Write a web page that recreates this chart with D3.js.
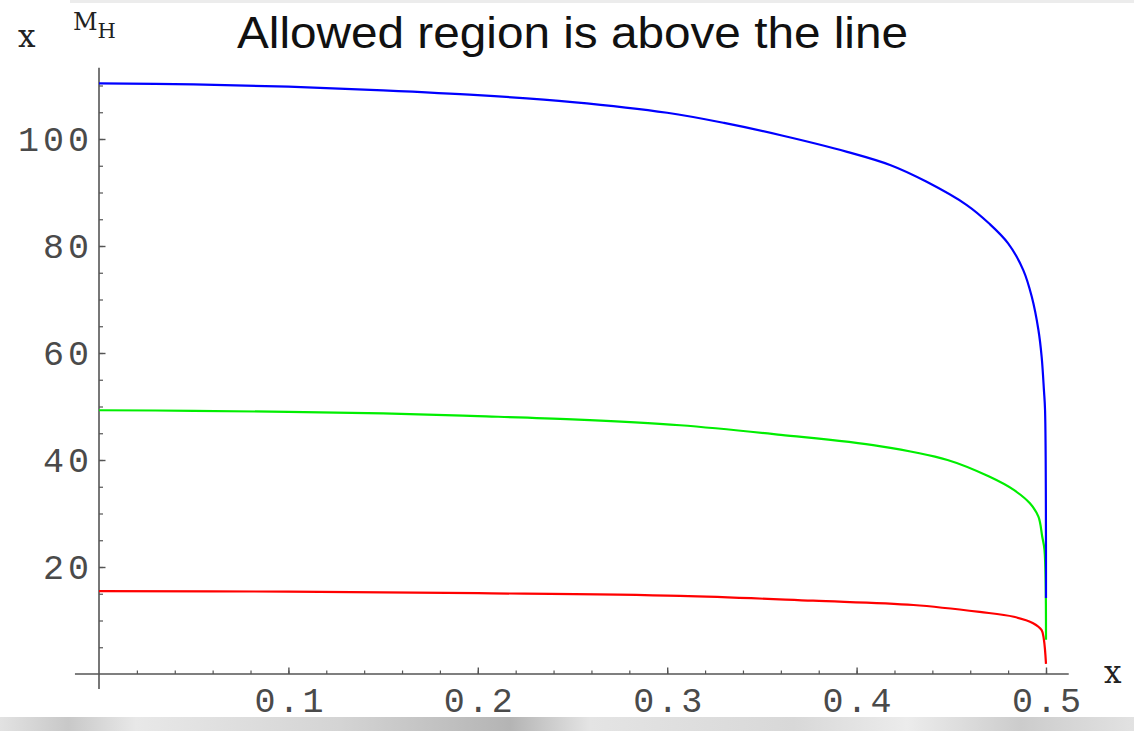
<!DOCTYPE html>
<html>
<head>
<meta charset="utf-8">
<script src="https://cdn.jsdelivr.net/npm/d3@7"></script>
<style>
  body { margin: 0; background: #fff; }
  svg { display: block; }
</style>
</head>
<body>
<svg width="1134" height="731"></svg>
<script>
// curves: x, M_H
var redX   = [0, 0.1, 0.2, 0.3068, 0.377, 0.43, 0.465, 0.483, 0.4932, 0.4977, 0.4989, 0.5];
var redM   = [15.5, 15.4, 15.1, 14.6, 13.7, 12.9, 11.6, 10.7, 9.5, 8.2, 6.4, 1.9];
var greenX = [0, 0.05, 0.1, 0.15, 0.2, 0.25, 0.3068, 0.36, 0.412, 0.448, 0.47, 0.483, 0.4915, 0.496, 0.498, 0.4992, 0.5];
var greenM = [49.3, 49.2, 49.0, 48.7, 48.2, 47.6, 46.5, 44.7, 42.6, 40.0, 36.9, 34.4, 31.9, 29.4, 25.7, 23.2, 6.4];
var blueX  = [0, 0.05, 0.1, 0.15, 0.2, 0.25, 0.3, 0.33, 0.36, 0.395, 0.418, 0.437, 0.458, 0.47, 0.48, 0.488, 0.4925, 0.496, 0.4977, 0.4989, 0.4995, 0.5];
var blueM  = [110.4, 110.2, 109.8, 109.1, 108.2, 106.9, 104.9, 103.0, 100.7, 97.6, 95.1, 92.0, 87.7, 84.2, 80.5, 75.5, 70.5, 64.3, 59.3, 53.1, 49.3, 14.2];

var xMajor = [0.1, 0.2, 0.3, 0.4, 0.5];
var yMajor = [20, 40, 60, 80, 100];
var xMinor = d3.range(0.02, 0.511, 0.02);
var yMinor = d3.range(5, 111, 5);
var xExtent = [-0.0127, 0.512];
var yExtent = [-2.8, 113.3];

var svg = d3.select("svg");

// faint strips of the slide background
svg.append("rect").attr("x", 70).attr("y", 0).attr("width", 1064).attr("height", 3).attr("fill", "#ececec");
var grad = svg.append("defs").append("linearGradient").attr("id", "metal");
[["0", "#e2e2e2"], ["0.06", "#c8c8c8"], ["0.12", "#e8e8e8"], ["0.3", "#d4d4d4"], ["0.45", "#b4b4b4"],
 ["0.52", "#e4e4e4"], ["0.7", "#d8d8d8"], ["0.8", "#ececec"], ["0.9", "#cccccc"], ["1", "#e2e2e2"]]
  .forEach(function(s) { grad.append("stop").attr("offset", s[0]).attr("stop-color", s[1]); });
svg.append("rect").attr("x", 0).attr("y", 717).attr("width", 1134).attr("height", 14).attr("fill", "url(#metal)");

var x = d3.scaleLinear().domain([0, 0.5]).range([99, 1046]);
var y = d3.scaleLinear().domain([0, 20]).range([674, 567]);

var axisColor = "#555";
var labelFont = "'Liberation Mono', 'DejaVu Sans Mono', monospace";

// axis lines
svg.append("line")
  .attr("x1", x(xExtent[0])).attr("x2", x(xExtent[1]))
  .attr("y1", y(0)).attr("y2", y(0))
  .attr("stroke", axisColor).attr("stroke-width", 1.6);
svg.append("line")
  .attr("x1", x(0)).attr("x2", x(0))
  .attr("y1", y(yExtent[0])).attr("y2", y(yExtent[1]))
  .attr("stroke", axisColor).attr("stroke-width", 1.6);

// minor ticks
svg.append("g")
  .attr("transform", "translate(0," + y(0) + ")")
  .call(d3.axisBottom(x).tickValues(xMinor).tickSize(-3.5).tickFormat(""))
  .call(function(g) { g.select(".domain").remove(); g.selectAll("line").attr("stroke", axisColor).attr("stroke-width", 1.2); });
svg.append("g")
  .attr("transform", "translate(" + x(0) + ",0)")
  .call(d3.axisLeft(y).tickValues(yMinor).tickSize(-4).tickFormat(""))
  .call(function(g) { g.select(".domain").remove(); g.selectAll("line").attr("stroke", axisColor).attr("stroke-width", 1.2); });

// major ticks with labels
svg.append("g")
  .attr("transform", "translate(0," + y(0) + ")")
  .call(d3.axisBottom(x).tickValues(xMajor).tickSize(-6.5).tickPadding(13).tickFormat(d3.format(".1f")))
  .call(function(g) {
    g.select(".domain").remove();
    g.selectAll("line").attr("stroke", axisColor).attr("stroke-width", 1.4);
    g.selectAll("text").attr("font-family", labelFont).attr("font-size", 35)
      .attr("letter-spacing", 3).attr("fill", "#4a4a4a").attr("dx", 1.5);
  });
svg.append("g")
  .attr("transform", "translate(" + x(0) + ",0)")
  .call(d3.axisLeft(y).tickValues(yMajor).tickSize(-6.5).tickPadding(6).tickFormat(d3.format("d")))
  .call(function(g) {
    g.select(".domain").remove();
    g.selectAll("line").attr("stroke", axisColor).attr("stroke-width", 1.4);
    g.selectAll("text").attr("font-family", labelFont).attr("font-size", 35)
      .attr("letter-spacing", 4).attr("fill", "#4a4a4a");
  });

// curves
var line = d3.line()
  .x(function(d) { return x(d[0]); })
  .y(function(d) { return y(d[1]); })
  .curve(d3.curveCatmullRom.alpha(0.5));

[[redX, redM, "#ff0000"], [greenX, greenM, "#00ee00"], [blueX, blueM, "#0000ff"]].forEach(function(s) {
  svg.append("path")
    .datum(d3.zip(s[0], s[1]))
    .attr("fill", "none")
    .attr("stroke", s[2])
    .attr("stroke-width", 2.2)
    .attr("stroke-linejoin", "round")
    .attr("d", line);
});

// texts
var serif = "'DejaVu Serif', 'Liberation Serif', serif";
svg.append("text").attr("x", 18).attr("y", 47).attr("font-family", serif).attr("font-size", 31)
  .attr("fill", "#222").text("x");
svg.append("text").attr("x", 1104).attr("y", 683).attr("font-family", serif).attr("font-size", 31)
  .attr("fill", "#222").text("x");
var mh = svg.append("text").attr("x", 73).attr("y", 30).attr("font-family", serif).attr("font-size", 24)
  .attr("fill", "#222");
mh.append("tspan").text("M");
mh.append("tspan").attr("dy", 8).attr("font-size", 21).text("H");

svg.append("text")
  .attr("x", 237).attr("y", 48)
  .attr("font-family", "'Liberation Sans', Arial, sans-serif")
  .attr("font-size", 45)
  .attr("textLength", 671).attr("lengthAdjust", "spacingAndGlyphs")
  .attr("fill", "#111")
  .text("Allowed region is above the line");
</script>
</body>
</html>
